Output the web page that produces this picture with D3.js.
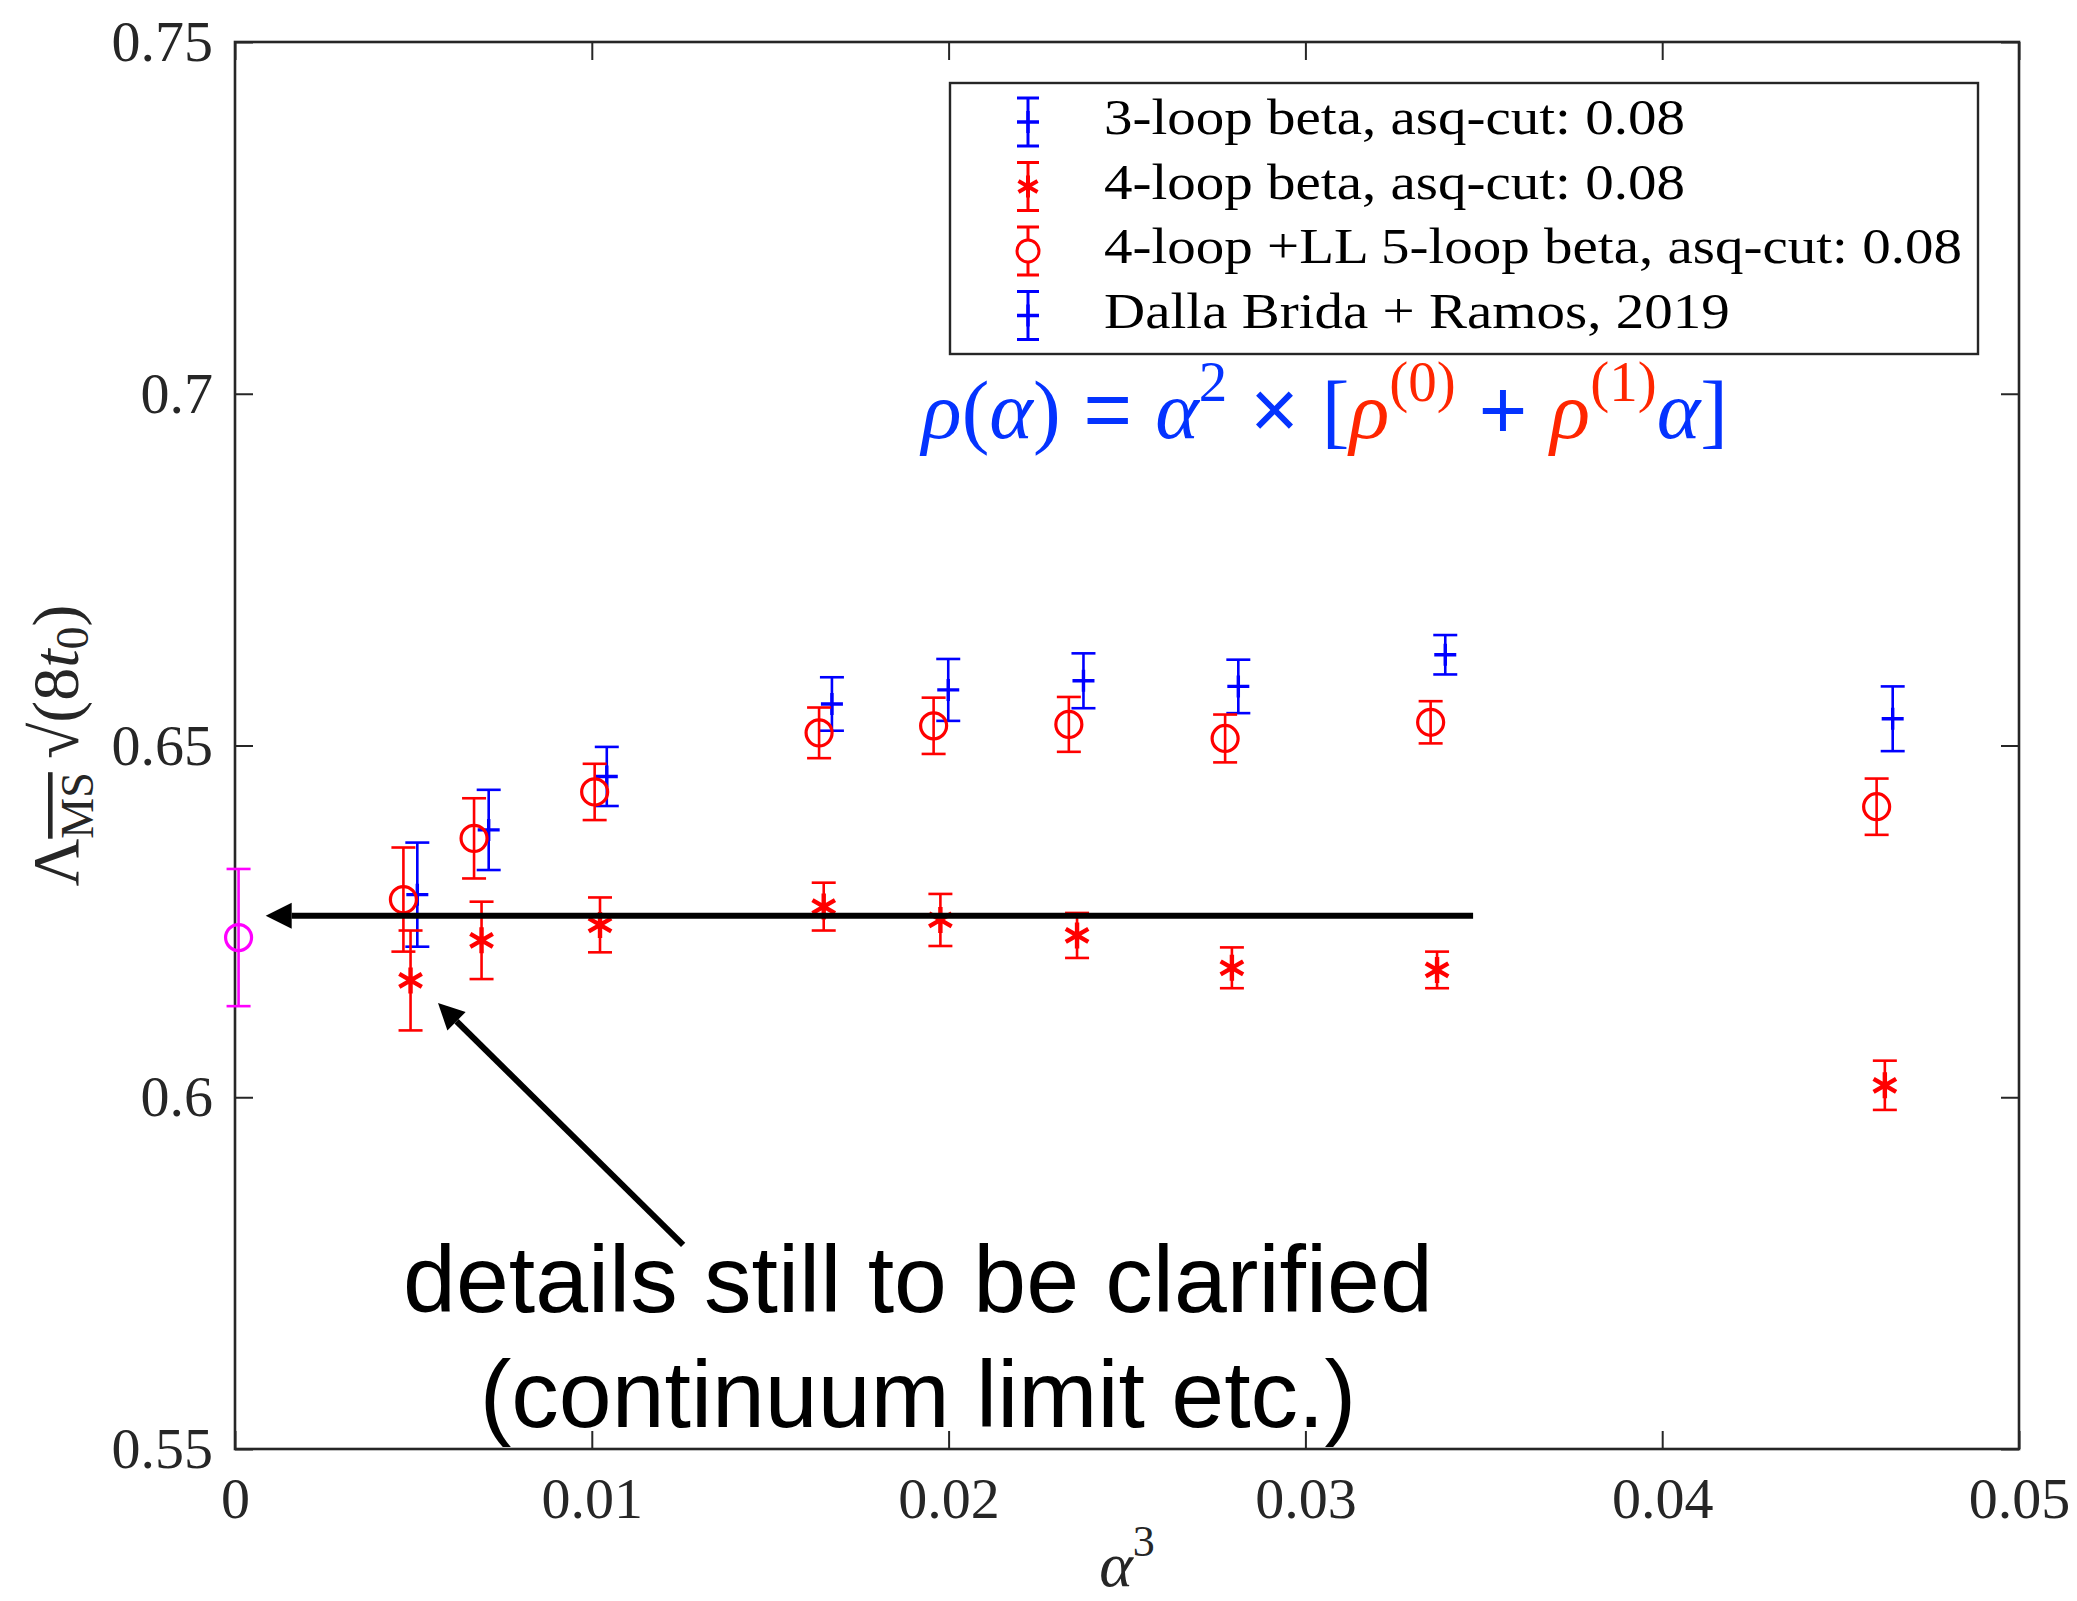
<!DOCTYPE html>
<html>
<head>
<meta charset="utf-8">
<script src="https://cdn.jsdelivr.net/npm/d3@7"></script>
<style>
  html, body { margin: 0; padding: 0; background: #fff; }
  svg { display: block; }
</style>
</head>
<body>
<div id="chart"></div>
<script>
// =============================================================================
// data
// =============================================================================

// 3-loop beta, asq-cut: 0.08 (blue +)
var xThree = [0.00511, 0.00711, 0.01042, 0.01673, 0.01999, 0.02378, 0.02812, 0.03392, 0.04646];
var yThree = [0.6288, 0.6380, 0.6456, 0.6559, 0.6579, 0.6592, 0.6584, 0.6629, 0.6538];
var eThree = [0.0074, 0.0057, 0.0042, 0.0038, 0.0044, 0.0039, 0.0038, 0.0028, 0.0046];

// 4-loop beta, asq-cut: 0.08 (red *)
var xFour = [0.00492, 0.00691, 0.01023, 0.01650, 0.01977, 0.02360, 0.02794, 0.03369, 0.04624];
var yFour = [0.6166, 0.6223, 0.6245, 0.6271, 0.6252, 0.6230, 0.6184, 0.6181, 0.6017];
var eFour = [0.0071, 0.0055, 0.0039, 0.0034, 0.0037, 0.0032, 0.0029, 0.0026, 0.0035];

// 4-loop +LL 5-loop beta, asq-cut: 0.08 (red o)
var xFive = [0.00472, 0.00670, 0.01008, 0.01637, 0.01958, 0.02337, 0.02775, 0.03351, 0.04601];
var yFive = [0.6281, 0.6368, 0.6434, 0.6518, 0.6528, 0.6530, 0.6510, 0.6533, 0.6413];
var eFive = [0.0074, 0.0057, 0.0040, 0.0036, 0.0040, 0.0039, 0.0034, 0.0030, 0.0040];

// extrapolated value (magenta o)
var xLimit = [0.0001];
var yLimit = [0.6227];
var eLimit = [0.00975];

// ticks
var xTicks = [0, 0.01, 0.02, 0.03, 0.04, 0.05];
var yTicks = [0.55, 0.6, 0.65, 0.7, 0.75];

// legend
var legendLabels = [
    "3-loop beta, asq-cut: 0.08",
    "4-loop beta, asq-cut: 0.08",
    "4-loop +LL 5-loop beta, asq-cut: 0.08",
    "Dalla Brida + Ramos, 2019"
];

// annotations (data coordinates)
var arrowLevel = [0.0347, 0.00086, 0.6258];            // x from, x to, y
var arrowNote = [0.01256, 0.5790, 0.00569, 0.6134];    // x0, y0, x1, y1
var noteLines = ["details still to be clarified", "(continuum limit etc.)"];
var noteAnchor = [0.01914, 0.5695, 0.5531];            // x centre, baselines

// =============================================================================
// layout
// =============================================================================
var width = 2077, height = 1601;
var _margin = { top: 42, right: 58, bottom: 152, left: 235 };
var _plotW = width - _margin.left - _margin.right;
var _plotH = height - _margin.top - _margin.bottom;

var BLUE = "#0000ff", RED = "#ff0000", MAGENTA = "#ff00ff";
var AXIS = "#262626";
var SERIF = "'Liberation Serif', 'DejaVu Serif', serif";
var SANS = "'Liberation Sans', Arial, sans-serif";
var WIDEN = 1.14;   // the LaTeX font of the original runs wider than Times

var svg = d3.select("#chart").append("svg")
    .attr("width", width)
    .attr("height", height);

svg.append("rect").attr("width", width).attr("height", height).attr("fill", "#fff");

var x = d3.scaleLinear().domain([0, 0.05]).range([_margin.left, _margin.left + _plotW]);
var y = d3.scaleLinear().domain([0.55, 0.75]).range([_margin.top + _plotH, _margin.top]);

// axes ========================================================================
function styleAxis(g) {
    g.select(".domain").remove();
    g.selectAll(".tick line").attr("stroke", AXIS).attr("stroke-width", 2);
    g.selectAll(".tick text")
        .attr("fill", "#262626")
        .style("font-family", SERIF)
        .style("font-size", "58px");
}

svg.append("g")
    .attr("transform", "translate(0," + y(0.55) + ")")
    .call(d3.axisBottom(x).tickValues(xTicks).tickSize(-18).tickPadding(28)
        .tickFormat(function (d) { return d === 0 ? "0" : d3.format(".2f")(d); }))
    .call(styleAxis);

svg.append("g")
    .attr("transform", "translate(0," + y(0.75) + ")")
    .call(d3.axisTop(x).tickValues(xTicks).tickSize(-18).tickFormat(""))
    .call(styleAxis);

svg.append("g")
    .attr("transform", "translate(" + x(0) + ",0)")
    .call(d3.axisLeft(y).tickValues(yTicks).tickSize(-18).tickPadding(22)
        .tickFormat(function (d) { return d3.format(".2~f")(d); }))
    .call(styleAxis);

svg.append("g")
    .attr("transform", "translate(" + x(0.05) + ",0)")
    .call(d3.axisRight(y).tickValues(yTicks).tickSize(-18).tickFormat(""))
    .call(styleAxis);

svg.append("rect")
    .attr("x", x(0)).attr("y", y(0.75))
    .attr("width", x(0.05) - x(0)).attr("height", y(0.55) - y(0.75))
    .attr("fill", "none").attr("stroke", AXIS).attr("stroke-width", 2.6);

// axis labels =================================================================
var xLabel = svg.append("text")
    .attr("x", (x(0) + x(0.05)) / 2)
    .attr("y", 1586)
    .attr("text-anchor", "middle")
    .style("font-family", SERIF)
    .style("font-size", "64px")
    .attr("fill", "#262626");
xLabel.append("tspan").style("font-style", "italic").text("α");
xLabel.append("tspan").attr("dy", -30).style("font-size", "44px").text("3");

var yLabel = svg.append("text")
    .attr("transform", "translate(78," + ((y(0.55) + y(0.75)) / 2) + ") rotate(-90)")
    .attr("text-anchor", "middle")
    .style("font-family", SERIF)
    .style("font-size", "66px")
    .attr("fill", "#262626");
yLabel.append("tspan").text("Λ");
yLabel.append("tspan").attr("dy", 15).style("font-size", "46px")
    .style("text-decoration", "overline").text("MS");
yLabel.append("tspan").attr("dy", -15).text("\u2009√");
yLabel.append("tspan").text("(8");
yLabel.append("tspan").style("font-style", "italic").text("t");
yLabel.append("tspan").attr("dy", 10).style("font-size", "46px").text("0");
yLabel.append("tspan").attr("dy", -10).text(")");

// =============================================================================
// markers
// =============================================================================
function errorBars(g, xs, ys, es, color) {
    var cap = 12;
    var sel = g.selectAll(null).data(xs.map(function (d, i) { return [d, ys[i], es[i]]; }))
        .enter().append("g")
        .attr("stroke", color).attr("stroke-width", 2.6).attr("fill", "none");
    sel.append("line")
        .attr("x1", function (d) { return x(d[0]); }).attr("x2", function (d) { return x(d[0]); })
        .attr("y1", function (d) { return y(d[1] - d[2]); }).attr("y2", function (d) { return y(d[1] + d[2]); });
    sel.append("line")
        .attr("x1", function (d) { return x(d[0]) - cap; }).attr("x2", function (d) { return x(d[0]) + cap; })
        .attr("y1", function (d) { return y(d[1] + d[2]); }).attr("y2", function (d) { return y(d[1] + d[2]); });
    sel.append("line")
        .attr("x1", function (d) { return x(d[0]) - cap; }).attr("x2", function (d) { return x(d[0]) + cap; })
        .attr("y1", function (d) { return y(d[1] - d[2]); }).attr("y2", function (d) { return y(d[1] - d[2]); });
    return sel;
}

function plusPath(cx, cy, r) {
    return "M" + (cx - r) + "," + cy + "H" + (cx + r) + "M" + cx + "," + (cy - r) + "V" + (cy + r);
}

function starPath(cx, cy, r) {
    var p = "M" + cx + "," + (cy - r) + "V" + (cy + r);
    [30, -30].forEach(function (a) {
        var t = a * Math.PI / 180, dx = r * Math.cos(t), dy = r * Math.sin(t);
        p += "M" + (cx - dx) + "," + (cy - dy) + "L" + (cx + dx) + "," + (cy + dy);
    });
    return p;
}

function drawSeries(xs, ys, es, color, marker) {
    var g = svg.append("g");
    var sel = errorBars(g, xs, ys, es, color);
    sel.each(function (d) {
        var el = d3.select(this), cx = x(d[0]), cy = y(d[1]);
        if (marker === "plus") {
            el.append("path").attr("d", plusPath(cx, cy, 11)).attr("stroke-width", 3.4);
        } else if (marker === "star") {
            el.append("path").attr("d", starPath(cx, cy, 13)).attr("stroke-width", 4.4);
        } else {
            el.append("circle").attr("cx", cx).attr("cy", cy).attr("r", 13).attr("stroke-width", 3.2);
        }
    });
}

drawSeries(xThree, yThree, eThree, BLUE, "plus");
drawSeries(xFour, yFour, eFour, RED, "star");
drawSeries(xFive, yFive, eFive, RED, "circle");
drawSeries(xLimit, yLimit, eLimit, MAGENTA, "circle");

// =============================================================================
// legend
// =============================================================================
var legendMarks = [[BLUE, "plus"], [RED, "star"], [RED, "circle"], [BLUE, "plus"]];
var legend = svg.append("g");
legend.append("rect")
    .attr("x", 950).attr("y", 83).attr("width", 1028).attr("height", 271)
    .attr("fill", "#fff").attr("stroke", AXIS).attr("stroke-width", 2.4);

legendLabels.forEach(function (label, i) {
    var cy = 122 + i * 64.5, cx = 1028;
    var c = legendMarks[i][0], m = legendMarks[i][1];
    var g = legend.append("g").attr("stroke", c).attr("fill", "none").attr("stroke-width", 3);
    g.append("line").attr("x1", cx).attr("x2", cx).attr("y1", cy - 24).attr("y2", cy + 24);
    g.append("line").attr("x1", cx - 11).attr("x2", cx + 11).attr("y1", cy - 24).attr("y2", cy - 24);
    g.append("line").attr("x1", cx - 11).attr("x2", cx + 11).attr("y1", cy + 24).attr("y2", cy + 24);
    if (m === "plus") g.append("path").attr("d", plusPath(cx, cy, 11)).attr("stroke-width", 3.4);
    else if (m === "star") g.append("path").attr("d", starPath(cx, cy, 11)).attr("stroke-width", 4);
    else g.append("circle").attr("cx", cx).attr("cy", cy).attr("r", 11).attr("fill", "#fff");
    var t = legend.append("text")
        .attr("x", 1104).attr("y", cy + 12)
        .style("font-family", SERIF).style("font-size", "50px")
        .attr("fill", "#000")
        .text(label);
    t.attr("textLength", t.node().getComputedTextLength() * WIDEN)
        .attr("lengthAdjust", "spacingAndGlyphs");
});

// =============================================================================
// formula
// =============================================================================
var FBLUE = "#0433ff", FRED = "#ff2600";
var formula = svg.append("text")
    .attr("x", x(0.01925)).attr("y", y(0.6937))
    .style("font-family", SERIF).style("font-size", "83px")
    .attr("fill", FBLUE);
// text, colour, style, dy, size, family
var fParts = [
    ["ρ", FBLUE, "italic", 0, 83, SERIF], ["(", FBLUE, "normal", 0, 83, SERIF],
    ["α", FBLUE, "italic", 0, 83, SERIF], [")", FBLUE, "normal", 0, 83, SERIF],
    [" = ", FBLUE, "normal", 0, 83, SANS], ["α", FBLUE, "italic", 0, 83, SERIF],
    ["2", FBLUE, "normal", -37, 57, SERIF], [" × ", FBLUE, "normal", 37, 83, SANS],
    ["[", FBLUE, "normal", 0, 83, SERIF], ["ρ", FRED, "italic", 0, 83, SERIF],
    ["(0)", FRED, "normal", -37, 57, SERIF], [" + ", FBLUE, "normal", 37, 83, SANS],
    ["ρ", FRED, "italic", 0, 83, SERIF], ["(1)", FRED, "normal", -37, 57, SERIF],
    ["α", FBLUE, "italic", 37, 83, SERIF], ["]", FBLUE, "normal", 0, 83, SERIF]
];
fParts.forEach(function (p) {
    formula.append("tspan")
        .attr("dy", p[3])
        .attr("fill", p[1])
        .style("font-style", p[2])
        .style("font-size", p[4] + "px")
        .style("font-family", p[5])
        .text(p[0]);
});

// =============================================================================
// arrows and note
// =============================================================================
function arrow(x0, y0, x1, y1) {
    var ang = Math.atan2(y1 - y0, x1 - x0), L = 26, W = 13;
    var bx = x1 - L * Math.cos(ang), by = y1 - L * Math.sin(ang);
    svg.append("line")
        .attr("x1", x0).attr("y1", y0).attr("x2", bx).attr("y2", by)
        .attr("stroke", "#000").attr("stroke-width", 6);
    svg.append("path")
        .attr("d", "M" + x1 + "," + y1 +
            "L" + (bx + W * Math.sin(ang)) + "," + (by - W * Math.cos(ang)) +
            "L" + (bx - W * Math.sin(ang)) + "," + (by + W * Math.cos(ang)) + "Z")
        .attr("fill", "#000");
}

arrow(x(arrowLevel[0]), y(arrowLevel[2]), x(arrowLevel[1]), y(arrowLevel[2]));
arrow(x(arrowNote[0]), y(arrowNote[1]), x(arrowNote[2]), y(arrowNote[3]));

noteLines.forEach(function (line, i) {
    svg.append("text")
        .attr("x", x(noteAnchor[0])).attr("y", y(noteAnchor[i + 1]))
        .attr("text-anchor", "middle")
        .style("font-family", SANS).style("font-size", "95px")
        .attr("fill", "#000")
        .text(line);
});
</script>
</body>
</html>
